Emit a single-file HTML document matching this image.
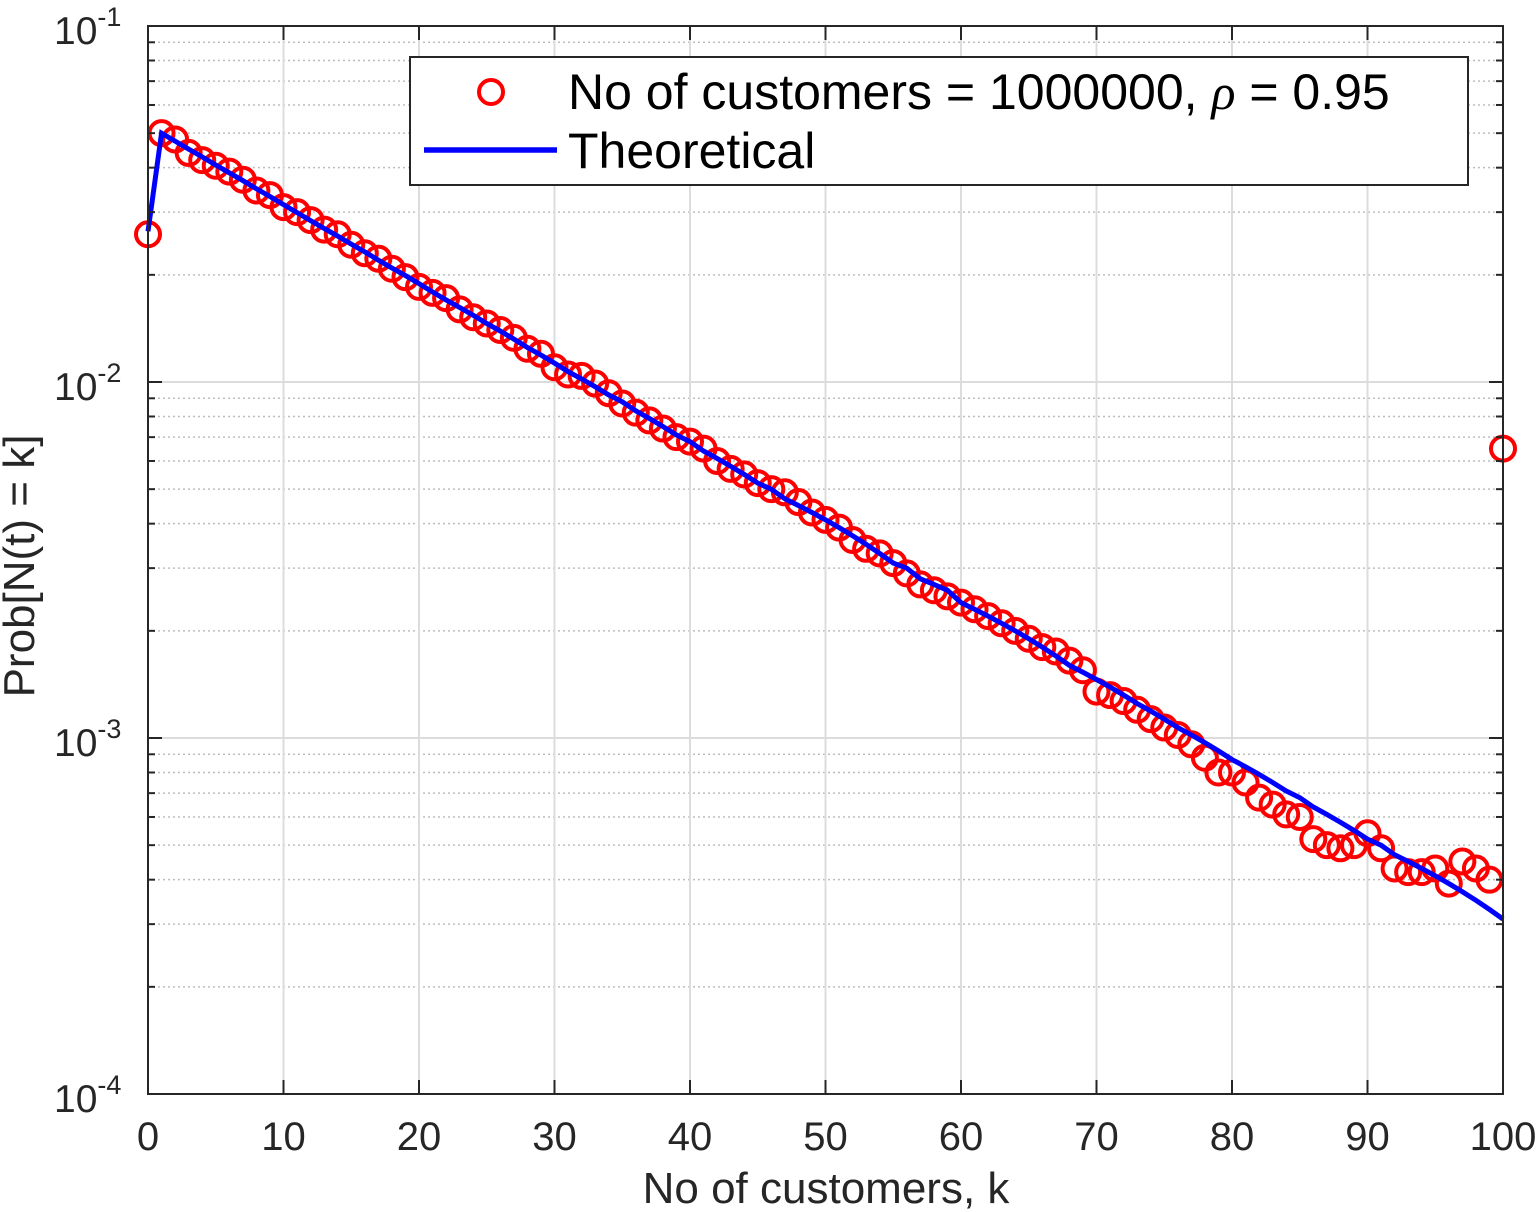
<!DOCTYPE html>
<html><head><meta charset="utf-8"><style>
html,body{margin:0;padding:0;background:#fff;}
svg{display:block;font-family:"Liberation Sans",sans-serif;}
</style></head><body>
<svg id="chart" width="1539" height="1212" viewBox="0 0 1539 1212">
<g id="grid"></g>
<g id="series"></g>
<g id="axes"></g>
<g id="legend">
 <rect x="410" y="57" width="1058" height="128" fill="#fff" stroke="#262626" stroke-width="2"/>
 <circle cx="491" cy="92" r="12" fill="none" stroke="#f00" stroke-width="4"/>
 <text x="568" y="109" font-size="50" fill="#000">No of customers = 1000000, <tspan font-family="Liberation Serif" font-style="italic">ρ</tspan> = 0.95</text>
 <line x1="424" y1="150" x2="557" y2="150" stroke="#00f" stroke-width="5.5"/>
 <text x="568" y="168" font-size="50" fill="#000">Theoretical</text>
</g>
<text x="826" y="1203" font-size="44" fill="#262626" text-anchor="middle">No of customers, k</text>
<text transform="translate(34,566) rotate(-90)" font-size="44" fill="#262626" text-anchor="middle">Prob[N(t) = k]</text>
</svg>
<script>
const xTicks=[0,10,20,30,40,50,60,70,80,90,100];
const yDecades=[-4,-3,-2,-1];
const theoretical=[0.0265,0.05,0.0475,0.0451,0.0429,0.0407,0.0387,0.0368,0.0349,0.0332,0.0315,0.0299,0.0284,0.0270,0.0257,0.0244,0.0232,0.0220,0.0209,0.0199,0.0189,0.0179,0.0170,0.0162,0.0154,0.0146,0.0139,0.0132,0.0125,0.0119,0.0113,0.0107,0.0102,0.0097,0.0092,0.0088,0.0083,0.0079,0.0075,0.0071,0.0068,0.0064,0.0061,0.0058,0.0055,0.0052,0.0050,0.0047,0.0045,0.0043,0.0041,0.0039,0.0037,0.0035,0.0033,0.0031,0.0030,0.0028,0.0027,0.0026,0.0024,0.0023,0.0022,0.0021,0.0020,0.0019,0.0018,0.0017,0.0016,0.00153,0.00146,0.00139,0.00132,0.00125,0.00119,0.00113,0.00107,0.00102,0.00097,0.00092,0.00087,0.00083,0.00079,0.00075,0.00071,0.00068,0.00064,0.00061,0.00058,0.00055,0.00052,0.00050,0.00047,0.00045,0.00043,0.00041,0.00039,0.00037,0.00035,0.00033,0.00031];
const simulated=[0.026,0.050,0.048,0.044,0.042,0.0405,0.039,0.037,0.0345,0.0335,0.031,0.030,0.0285,0.0268,0.026,0.0243,0.023,0.0222,0.0208,0.0197,0.0185,0.0178,0.0172,0.0160,0.0152,0.0146,0.0140,0.0133,0.0124,0.0120,0.0110,0.0105,0.0104,0.0099,0.0093,0.0087,0.0082,0.0078,0.0074,0.0070,0.0068,0.0065,0.0060,0.0057,0.0055,0.0052,0.0050,0.0049,0.0046,0.0043,0.0041,0.0039,0.0036,0.0034,0.0033,0.0031,0.0029,0.0027,0.0026,0.0025,0.0024,0.0023,0.0022,0.0021,0.0020,0.0019,0.0018,0.00175,0.00165,0.00155,0.00135,0.00132,0.00127,0.00120,0.00113,0.00107,0.00102,0.00096,0.00088,0.00080,0.00080,0.00075,0.00068,0.00065,0.00061,0.00060,0.00052,0.00050,0.00049,0.00050,0.00054,0.00049,0.00043,0.00042,0.00042,0.00043,0.00039,0.00045,0.00043,0.00040,0.0065];
const X0=148,X1=1503,YT=26,YB=1094;
function xs(k){return X0+(k-0)/(100-0)*(X1-X0);}
function ys(v){return YB-(Math.log10(v)+4)/3*(YB-YT);}
const NS='http://www.w3.org/2000/svg';
function mk(tag,parent,attrs){const e=document.createElementNS(NS,tag);for(const a in attrs)e.setAttribute(a,attrs[a]);parent.appendChild(e);return e;}
const grid=document.getElementById('grid'),axes=document.getElementById('axes'),ser=document.getElementById('series');
for(let d=-4;d<-1;d++){for(let m=2;m<=9;m++){const y=ys(m*Math.pow(10,d));
 const g=mk('line',grid,{x1:X0,x2:X1,y1:y,y2:y,stroke:'#bdbdbd','stroke-width':1.5,'stroke-dasharray':'2,3'});
 
 
 for(const xx of [X0,X1]){const t=mk('line',axes,{x1:xx,x2:xx+(xx===X0?7:-7),y1:y,y2:y,stroke:'#262626','stroke-width':2});
 
 }
}}
for(const d of yDecades){const y=ys(Math.pow(10,d));
 const g=mk('line',grid,{x1:X0,x2:X1,y1:y,y2:y,stroke:'#dcdcdc','stroke-width':2});
 
 
 for(const xx of [X0,X1]){const t=mk('line',axes,{x1:xx,x2:xx+(xx===X0?14:-14),y1:y,y2:y,stroke:'#262626','stroke-width':2});
 
 }
 const tx=mk('text',axes,{x:54,y:y+18,'font-size':39,fill:'#262626','text-anchor':'start'});
 tx.innerHTML='10<tspan dy="-18" font-size="27">'+d+'</tspan>';
 
 
}
for(const k of xTicks){const x=xs(k);
 const g=mk('line',grid,{x1:x,x2:x,y1:YT,y2:YB,stroke:'#dcdcdc','stroke-width':2});
 
 
 for(const yy of [YT,YB]){const t=mk('line',axes,{x1:x,x2:x,y1:yy,y2:yy+(yy===YB?-14:14),stroke:'#262626','stroke-width':2});
 
 }
 const tx=mk('text',axes,{x:x,y:1150,'font-size':40,fill:'#262626','text-anchor':'middle'});
 tx.textContent=k;
 
 
}
const frame=mk('rect',axes,{x:X0,y:YT,width:X1-X0,height:YB-YT,fill:'none',stroke:'#262626','stroke-width':2});


simulated.forEach((v,k)=>{const c=mk('circle',ser,{cx:xs(k),cy:ys(v),r:12,fill:'none',stroke:'#f00','stroke-width':4});
 
 });
const pl=mk('polyline',ser,{points:theoretical.map((v,k)=>xs(k)+','+ys(v)).join(' '),fill:'none',stroke:'#00f','stroke-width':5});


document.getElementById('chart').appendChild(document.getElementById('legend'));
</script>
</body></html>
